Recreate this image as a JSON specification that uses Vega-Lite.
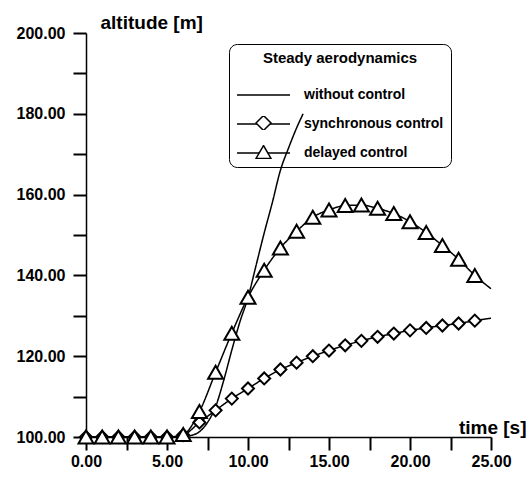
{
  "$schema": "https://vega.github.io/schema/vega-lite/v6.json",
  "width": 405,
  "height": 404,
  "autosize": {"type": "none"},
  "padding": {"left": 86, "top": 33, "right": 38, "bottom": 43},
  "background": "white",
  "config": {
    "font": "Liberation Sans",
    "view": {"stroke": null},
    "axis": {
      "grid": false,
      "domainColor": "black",
      "domainWidth": 1.5,
      "ticks": true,
      "tickColor": "black",
      "tickWidth": 2,
      "tickSize": 13,
      "labelColor": "black",
      "labelFontSize": 16,
      "labelFontWeight": "bold",
      "titleColor": "black",
      "titleFontSize": 19,
      "titleFontWeight": "bold",
      "titleAngle": 0
    },
    "legend": {
      "orient": "none",
      "titleFontSize": 15,
      "titleFontWeight": "bold",
      "titleColor": "black",
      "titleAnchor": "middle",
      "labelFontSize": 14,
      "labelFontWeight": "bold",
      "labelColor": "black",
      "labelLimit": 300,
      "symbolOffset": 0,
      "clipHeight": 14,
      "rowPadding": 15,
      "cornerRadius": 8
    }
  },
  "data": {
    "values": [
      {"series": "without control", "t": 0, "alt": 100},
      {"series": "without control", "t": 1, "alt": 100},
      {"series": "without control", "t": 2, "alt": 100},
      {"series": "without control", "t": 3, "alt": 100},
      {"series": "without control", "t": 4, "alt": 100},
      {"series": "without control", "t": 5, "alt": 100},
      {"series": "without control", "t": 6, "alt": 100.1},
      {"series": "without control", "t": 6.5, "alt": 100.4},
      {"series": "without control", "t": 7, "alt": 101.3},
      {"series": "without control", "t": 7.5, "alt": 103.6},
      {"series": "without control", "t": 8, "alt": 107.5},
      {"series": "without control", "t": 8.5, "alt": 114},
      {"series": "without control", "t": 9, "alt": 121.5},
      {"series": "without control", "t": 9.5, "alt": 128.5},
      {"series": "without control", "t": 10, "alt": 134.5},
      {"series": "without control", "t": 10.5, "alt": 142.5},
      {"series": "without control", "t": 11, "alt": 150.5},
      {"series": "without control", "t": 11.5, "alt": 158},
      {"series": "without control", "t": 12, "alt": 166},
      {"series": "without control", "t": 12.5, "alt": 171.5},
      {"series": "without control", "t": 13, "alt": 176.5},
      {"series": "without control", "t": 13.4, "alt": 180},

      {"series": "synchronous control", "t": 0, "alt": 100},
      {"series": "synchronous control", "t": 1, "alt": 100},
      {"series": "synchronous control", "t": 2, "alt": 100},
      {"series": "synchronous control", "t": 3, "alt": 100},
      {"series": "synchronous control", "t": 4, "alt": 100},
      {"series": "synchronous control", "t": 5, "alt": 100},
      {"series": "synchronous control", "t": 6, "alt": 100.5},
      {"series": "synchronous control", "t": 7, "alt": 103.6},
      {"series": "synchronous control", "t": 8, "alt": 106.6},
      {"series": "synchronous control", "t": 9, "alt": 109.5},
      {"series": "synchronous control", "t": 10, "alt": 112},
      {"series": "synchronous control", "t": 11, "alt": 114.5},
      {"series": "synchronous control", "t": 12, "alt": 116.7},
      {"series": "synchronous control", "t": 13, "alt": 118.4},
      {"series": "synchronous control", "t": 14, "alt": 120},
      {"series": "synchronous control", "t": 15, "alt": 121.4},
      {"series": "synchronous control", "t": 16, "alt": 122.7},
      {"series": "synchronous control", "t": 17, "alt": 123.8},
      {"series": "synchronous control", "t": 18, "alt": 124.8},
      {"series": "synchronous control", "t": 19, "alt": 125.6},
      {"series": "synchronous control", "t": 20, "alt": 126.4},
      {"series": "synchronous control", "t": 21, "alt": 127},
      {"series": "synchronous control", "t": 22, "alt": 127.6},
      {"series": "synchronous control", "t": 23, "alt": 128.1},
      {"series": "synchronous control", "t": 24, "alt": 128.8},
      {"series": "synchronous control", "t": 25, "alt": 129.4},

      {"series": "delayed control", "t": 0, "alt": 100},
      {"series": "delayed control", "t": 1, "alt": 100},
      {"series": "delayed control", "t": 2, "alt": 100},
      {"series": "delayed control", "t": 3, "alt": 100},
      {"series": "delayed control", "t": 4, "alt": 100},
      {"series": "delayed control", "t": 5, "alt": 100},
      {"series": "delayed control", "t": 6, "alt": 100.6},
      {"series": "delayed control", "t": 7, "alt": 106.3},
      {"series": "delayed control", "t": 8, "alt": 116},
      {"series": "delayed control", "t": 9, "alt": 125.7},
      {"series": "delayed control", "t": 10, "alt": 134.6},
      {"series": "delayed control", "t": 11, "alt": 141.3},
      {"series": "delayed control", "t": 12, "alt": 146.8},
      {"series": "delayed control", "t": 13, "alt": 150.9},
      {"series": "delayed control", "t": 14, "alt": 154.4},
      {"series": "delayed control", "t": 15, "alt": 156.2},
      {"series": "delayed control", "t": 16, "alt": 157.3},
      {"series": "delayed control", "t": 17, "alt": 157.4},
      {"series": "delayed control", "t": 18, "alt": 156.6},
      {"series": "delayed control", "t": 19, "alt": 155.3},
      {"series": "delayed control", "t": 20, "alt": 153.3},
      {"series": "delayed control", "t": 21, "alt": 150.6},
      {"series": "delayed control", "t": 22, "alt": 147.4},
      {"series": "delayed control", "t": 23, "alt": 144},
      {"series": "delayed control", "t": 24, "alt": 140},
      {"series": "delayed control", "t": 25, "alt": 136.7}
    ]
  },
  "encoding": {
    "x": {
      "field": "t",
      "type": "quantitative",
      "scale": {"domain": [0, 25], "nice": false, "zero": false},
      "axis": {
        "title": "time [s]",
        "values": [0, 2.5, 5, 7.5, 10, 12.5, 15, 17.5, 20, 22.5, 25],
        "labelExpr": "datum.value % 5 === 0 ? format(datum.value, '.2f') : ''",
        "labelPadding": 3,
        "labelFlush": false,
        "labelOverlap": false,
        "titleX": 440,
        "titleY": -4,
        "titleAlign": "right",
        "titleBaseline": "alphabetic",
        "encode": {
          "ticks": {
            "y2": {
              "condition": [
                {"test": "datum.value % 5 === 0", "value": 13},
                {"test": "datum.value % 5 !== 0", "value": 6}
              ],
              "value": 13
            }
          }
        }
      }
    },
    "y": {
      "field": "alt",
      "type": "quantitative",
      "scale": {"domain": [100, 200], "nice": false, "zero": false},
      "axis": {
        "title": "altitude [m]",
        "values": [100, 110, 120, 130, 140, 150, 160, 170, 180, 190, 200],
        "labelExpr": "datum.value % 20 === 0 ? format(datum.value, '.2f') : ''",
        "labelPadding": 8,
        "labelFlush": false,
        "labelOverlap": false,
        "titleX": 14,
        "titleY": -5,
        "titleAlign": "left",
        "titleBaseline": "alphabetic",
        "encode": {
          "ticks": {
            "x2": {
              "condition": [
                {"test": "datum.value % 20 === 0", "value": -13},
                {"test": "datum.value % 20 !== 0", "value": -6}
              ],
              "value": -13
            }
          }
        }
      }
    }
  },
  "layer": [
    {
      "mark": {"type": "line", "color": "black", "strokeWidth": 1.5, "interpolate": "monotone", "clip": false},
      "encoding": {
        "strokeDash": {
          "field": "series",
          "type": "nominal",
          "scale": {
            "domain": ["without control", "synchronous control", "delayed control"],
            "range": [[1, 0], [1, 0], [1, 0]]
          },
          "legend": {
            "title": "Steady aerodynamics",
            "legendX": 143,
            "legendY": 11,
            "padding": 7,
            "titlePadding": 22,
            "labelOffset": 13,
            "symbolSize": 2809,
            "symbolStrokeWidth": 1.5,
            "strokeColor": "black"
          }
        }
      }
    },
    {
      "transform": [
        {"filter": "datum.series === 'synchronous control' && datum.t < 25"}
      ],
      "mark": {"type": "point", "filled": true, "fill": "white", "stroke": "black", "strokeWidth": 2, "opacity": 1, "size": 144, "clip": false},
      "encoding": {
        "shape": {
          "field": "series",
          "type": "nominal",
          "scale": {
            "domain": ["synchronous control", "delayed control"],
            "range": ["diamond", "triangle-up"]
          },
          "legend": {
            "title": null,
            "legendX": 169,
            "legendY": 83,
            "padding": 0,
            "labelExpr": "''",
            "symbolSize": 225,
            "symbolStrokeWidth": 1.5,
            "strokeColor": "transparent"
          }
        }
      }
    },
    {
      "transform": [
        {"filter": "datum.series === 'delayed control' && datum.t < 25"}
      ],
      "mark": {"type": "point", "filled": true, "fill": "white", "stroke": "black", "strokeWidth": 2, "opacity": 1, "size": 225, "clip": false},
      "encoding": {
        "shape": {"field": "series", "type": "nominal"}
      }
    }
  ]
}
